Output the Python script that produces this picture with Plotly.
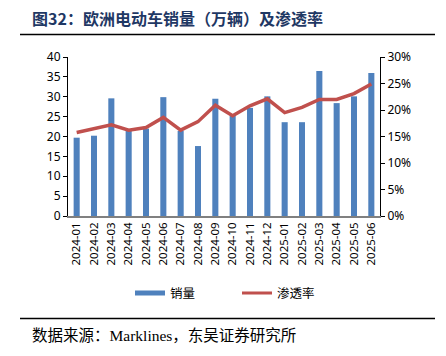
import plotly.graph_objects as go

months = ["2024-01", "2024-02", "2024-03", "2024-04", "2024-05", "2024-06",
          "2024-07", "2024-08", "2024-09", "2024-10", "2024-11", "2024-12",
          "2025-01", "2025-02", "2025-03", "2025-04", "2025-05", "2025-06"]
sales = [19.7, 20.2, 29.6, 21.5, 22.0, 29.9, 21.4, 17.6, 29.5,
         25.2, 27.2, 30.1, 23.6, 23.6, 36.5, 28.4, 30.1, 36.0]
penetration = [0.1575, 0.164, 0.172, 0.162, 0.167, 0.186, 0.162, 0.178, 0.209,
               0.189, 0.208, 0.221, 0.195, 0.205, 0.220, 0.220, 0.231, 0.249]
left_ticks = [0, 5, 10, 15, 20, 25, 30, 35, 40]
right_ticks = [0, 0.05, 0.10, 0.15, 0.20, 0.25, 0.30]

title_text = "图32：欧洲电动车销量（万辆）及渗透率"
source_text = "数据来源：Marklines，东吴证券研究所"

W, H = 446, 356
L, R, T, B = 68, 380, 57, 215.7

def px(x):
    return (x - L) / (R - L)

def py(y):
    return (B - y) / (B - T)

BLUE = "#4F81BD"
RED = "#C0504D"
FONT = "Noto Sans, Noto Sans CJK SC, sans-serif"

fig = go.Figure()
fig.add_trace(go.Bar(x=months, y=sales, marker=dict(color=BLUE, line=dict(width=0)),
                     name="销量", showlegend=False, yaxis="y"))
fig.add_trace(go.Scatter(x=months, y=penetration, mode="lines",
                         line=dict(color=RED, width=3.5), name="渗透率",
                         showlegend=False, yaxis="y2"))
# legend proxies
fig.add_trace(go.Scatter(x=[None], y=[None], mode="lines", line=dict(color=BLUE, width=5),
                         name="销量", legend="legend", yaxis="y"))
fig.add_trace(go.Scatter(x=[None], y=[None], mode="lines", line=dict(color=RED, width=3),
                         name="渗透率", legend="legend2", yaxis="y2"))

fig.update_layout(
    width=W, height=H,
    margin=dict(l=L, r=W - R, t=T, b=H - B, pad=0, autoexpand=False),
    paper_bgcolor="white", plot_bgcolor="white",
    font=dict(family=FONT, size=12, color="#000000"),
    bargap=0.65,
    xaxis=dict(type="category", tickangle=-90, showline=True, linecolor="#808080",
               linewidth=1.5, ticks="", tickfont=dict(size=11.5), showgrid=False,
               automargin=False),
    yaxis=dict(range=[0, 40], tickvals=left_ticks, showline=True, linecolor="#000000",
               linewidth=1, ticks="outside", ticklen=4, tickcolor="#000000",
               showgrid=False, zeroline=False, tickfont=dict(size=12), automargin=False),
    yaxis2=dict(range=[0, 0.30], tickvals=right_ticks, tickformat=".0%", overlaying="y",
                side="right", showline=True, linecolor="#000000", linewidth=1,
                ticks="outside", ticklen=4, tickcolor="#000000", showgrid=False,
                zeroline=False, tickfont=dict(size=12), automargin=False),
    legend=dict(orientation="h", x=px(130), y=py(293), xanchor="left", yanchor="middle",
                bgcolor="rgba(0,0,0,0)", font=dict(size=12.5)),
    legend2=dict(orientation="h", x=px(237), y=py(293), xanchor="left", yanchor="middle",
                 bgcolor="rgba(0,0,0,0)", font=dict(size=12.5)),
    showlegend=True,
)

fig.add_annotation(text="<b>" + title_text + "</b>", xref="paper", yref="paper",
                   x=px(30), y=py(18), xanchor="left", yanchor="middle", showarrow=False,
                   font=dict(family="Noto Sans CJK SC, sans-serif", size=16, color="#1F3864"))
fig.add_annotation(text=source_text, xref="paper", yref="paper",
                   x=px(30), y=py(335), xanchor="left", yanchor="middle", showarrow=False,
                   font=dict(family="Liberation Serif, Noto Sans CJK SC, serif", size=15.5,
                             color="#000000"))
fig.add_shape(type="line", xref="paper", yref="paper", x0=px(20), x1=px(435),
              y0=py(34.5), y1=py(34.5), line=dict(color="#000000", width=1.5))
fig.add_shape(type="line", xref="paper", yref="paper", x0=px(20), x1=px(435),
              y0=py(318), y1=py(318), line=dict(color="#000000", width=1.5))

fig.write_html("out.html", config={"displayModeBar": False},
               post_script="document.body.style.margin='0';document.body.style.overflow='hidden';")
